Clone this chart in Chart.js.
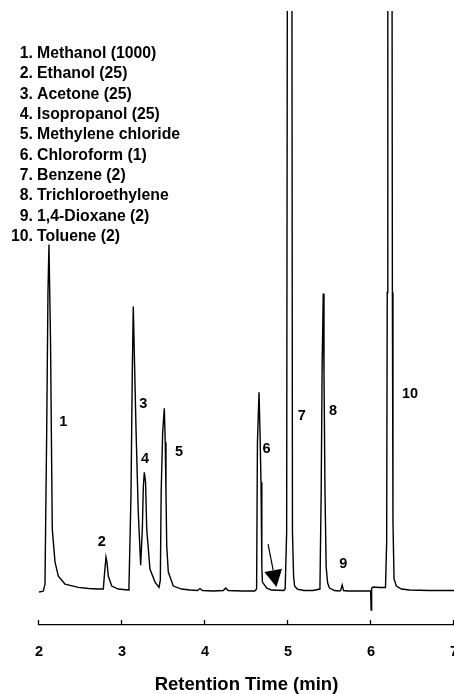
<!DOCTYPE html>
<html>
<head>
<meta charset="utf-8">
<title>Residual solvents chromatogram</title>
<script src="https://cdn.jsdelivr.net/npm/chart.js@4.4.0/dist/chart.umd.min.js"></script>
<style>
  html, body { margin: 0; padding: 0; background: #fff; overflow: hidden; }
  #wrap { position: relative; width: 454px; height: 694px; overflow: hidden; }
  #wrap canvas { position: absolute; left: 0; top: 0; }
  #compounds {
    position: absolute; left: 0; top: 43px;
    font: bold 15.8px "Liberation Sans", Arial, sans-serif;
    line-height: 20.33px; color: #000;
  }
  #compounds div { white-space: nowrap; }
  #compounds .num { display: inline-block; width: 33px; text-align: right; }
  #compounds .name { padding-left: 4px; }
</style>
</head>
<body>
<div id="wrap">
  <canvas id="chrom" width="478" height="694"></canvas>
  <div id="compounds"></div>
</div>
<script>
// peak table
const peakNumbers = [1, 2, 3, 4, 5, 6, 7, 8, 9, 10];
const compounds = [
  "Methanol (1000)",
  "Ethanol (25)",
  "Acetone (25)",
  "Isopropanol (25)",
  "Methylene chloride",
  "Chloroform (1)",
  "Benzene (2)",
  "Trichloroethylene",
  "1,4-Dioxane (2)",
  "Toluene (2)",
];

// detector trace: retention time (min) and response (arbitrary units)
const rtMin = [
  2.000, 2.030, 2.052, 2.072, 2.093, 2.108, 2.120, 2.139, 2.150, 2.160,
  2.193, 2.233, 2.313, 2.473, 2.600, 2.714, 2.775, 2.789, 2.807, 2.819,
  2.835, 2.876, 2.955, 3.076, 3.084, 3.108, 3.124, 3.136, 3.151, 3.169,
  3.196, 3.225, 3.245, 3.257, 3.269, 3.284, 3.298, 3.337, 3.398, 3.446,
  3.462, 3.472, 3.490, 3.510, 3.521, 3.530, 3.539, 3.558, 3.618, 3.719,
  3.819, 3.910, 3.940, 3.970, 4.100, 4.220, 4.250, 4.280, 4.450, 4.600,
  4.622, 4.632, 4.651, 4.663, 4.675, 4.685, 4.692, 4.745, 4.800, 4.950,
  4.966, 4.984, 4.998, 5.043, 5.054, 5.068, 5.080, 5.112, 5.190, 5.300,
  5.385, 5.400, 5.412, 5.425, 5.434, 5.446, 5.460, 5.478, 5.500, 5.560,
  5.620, 5.635, 5.653, 5.670, 5.720, 5.850, 5.996, 6.002, 6.008, 6.028,
  6.100, 6.175, 6.189, 6.196, 6.203, 6.249, 6.258, 6.265, 6.278, 6.306,
  6.367, 6.467, 6.700, 7.000,
];
const response = [
  0, 0.5, 1, 8, 163, 300, 348, 250, 150, 63,
  30, 16, 8, 4.7, 3.5, 3, 3, 18, 35, 30,
  16, 6, 3, 2, 5, 96, 220, 286, 230, 163,
  80, 27, 63, 105, 120, 110, 63, 23, 10, 4.7,
  12, 100, 160, 184, 150, 100, 46, 20, 6, 3,
  2, 1.5, 3.5, 1.5, 1, 1.5, 4, 1.5, 1, 1,
  3, 150, 200, 160, 110, 25, 10, 4, 2, 1.5,
  3, 60, 1000, 1000, 60, 15, 6, 3, 1.5, 1.5,
  3, 100, 230, 299, 220, 100, 25, 9, 4, 1.5,
  1, 1.5, 7, 1.5, 1, 1, 1, -18, 4, 5,
  4.5, 4.5, 50, 300, 1000, 1000, 300, 70, 13, 6,
  3, 2, 1.5, 1.5,
];

// x axis ticks
const timeTicks = [2, 3, 4, 5, 6, 7];

// where each peak number sits (min, response)
const peakLabelAt = [
  [2.293, 170], [2.755, 50], [3.257, 188], [3.277, 133], [3.687, 140],
  [4.743, 143], [5.165, 176], [5.542, 181], [5.667, 28], [6.470, 198],
];
// arrow pointing at the baseline after chloroform
const arrowFrom = [4.760, 48];
const arrowTo = [4.861, 5];

const FONT = '"Liberation Sans", Arial, sans-serif';

const list = document.getElementById('compounds');
peakNumbers.forEach((n, i) => {
  const row = document.createElement('div');
  row.innerHTML = '<span class="num">' + n + '.</span><span class="name">' + compounds[i] + '</span>';
  list.appendChild(row);
});

const chromAnnotations = {
  id: 'chromAnnotations',
  afterDatasetsDraw(chart) {
    const { ctx, chartArea } = chart;
    const x = chart.scales.x;
    const y = chart.scales.y;
    ctx.save();
    ctx.strokeStyle = '#000';
    ctx.fillStyle = '#000';

    // tick marks stand up from the axis line
    ctx.lineWidth = 1.3;
    x.ticks.forEach(t => {
      const px = Math.round(x.getPixelForValue(t.value)) - 0.5;
      ctx.beginPath();
      ctx.moveTo(px, chartArea.bottom);
      ctx.lineTo(px, chartArea.bottom - 5);
      ctx.stroke();
    });

    // peak numbers
    ctx.font = 'bold 14.5px ' + FONT;
    ctx.textAlign = 'center';
    ctx.textBaseline = 'middle';
    peakNumbers.forEach((n, i) => {
      ctx.fillText(String(n), x.getPixelForValue(peakLabelAt[i][0]), y.getPixelForValue(peakLabelAt[i][1]));
    });

    // arrow
    const x0 = x.getPixelForValue(arrowFrom[0]), y0 = y.getPixelForValue(arrowFrom[1]);
    const x1 = x.getPixelForValue(arrowTo[0]), y1 = y.getPixelForValue(arrowTo[1]);
    const ang = Math.atan2(y1 - y0, x1 - x0);
    const headLen = 17, headHalf = 9;
    const bx = x1 - headLen * Math.cos(ang), by = y1 - headLen * Math.sin(ang);
    ctx.lineWidth = 1.2;
    ctx.beginPath();
    ctx.moveTo(x0, y0);
    ctx.lineTo(bx, by);
    ctx.stroke();
    ctx.beginPath();
    ctx.moveTo(x1, y1);
    ctx.lineTo(bx + headHalf * Math.sin(ang), by - headHalf * Math.cos(ang));
    ctx.lineTo(bx - headHalf * Math.sin(ang), by + headHalf * Math.cos(ang));
    ctx.closePath();
    ctx.fill();
    ctx.restore();
  }
};

new Chart(document.getElementById('chrom'), {
  type: 'scatter',
  data: {
    datasets: [{
      data: rtMin.map((t, i) => ({ x: t, y: response[i] })),
      showLine: true,
      borderColor: '#000',
      borderWidth: 1.4,
      pointRadius: 0,
      tension: 0,
      fill: false,
    }],
  },
  options: {
    responsive: false,
    animation: false,
    devicePixelRatio: 1,
    layout: { padding: { left: 39, right: 24, top: 11, bottom: 0 } },
    plugins: {
      legend: { display: false },
      tooltip: { enabled: false },
    },
    scales: {
      x: {
        type: 'linear',
        min: 2,
        max: 7,
        afterBuildTicks: scale => { scale.ticks = timeTicks.map(v => ({ value: v })); },
        grid: { display: false, drawTicks: false },
        border: { display: true, color: '#000', width: 1.3 },
        ticks: {
          color: '#000',
          padding: 20,
          font: { family: FONT, size: 14.5, weight: 'bold', lineHeight: 1 },
        },
        title: {
          display: true,
          text: 'Retention Time (min)',
          color: '#000',
          padding: { top: -4, bottom: 0 },
          font: { family: FONT, size: 18.5, weight: 'bold', lineHeight: 1 },
        },
      },
      y: { display: false, min: -33, max: 582 },
    },
  },
  plugins: [chromAnnotations],
});
</script>
</body>
</html>
